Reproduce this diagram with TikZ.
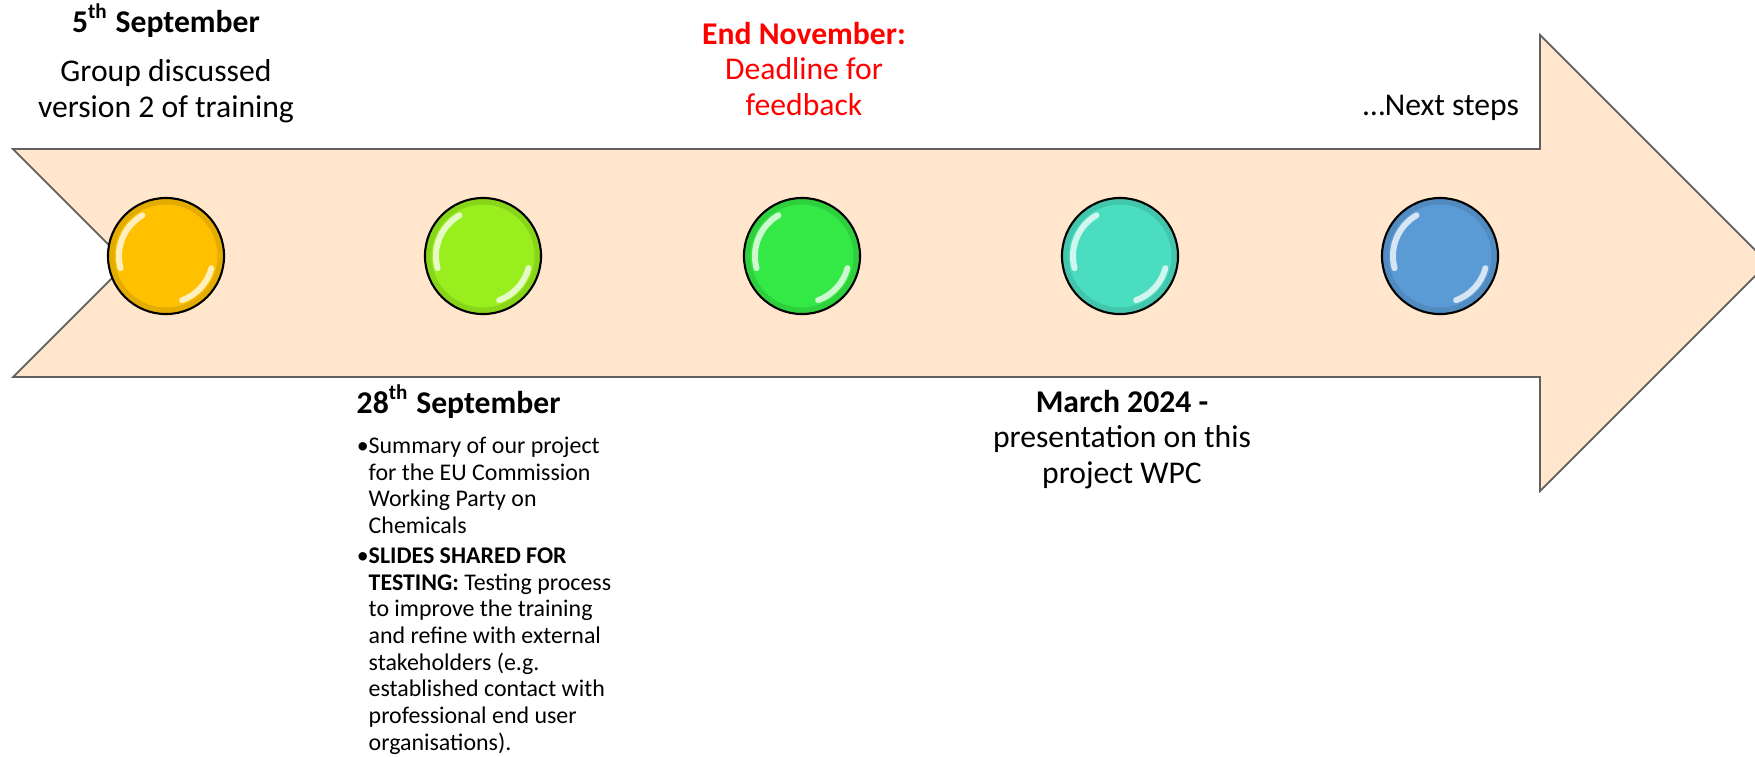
\documentclass[tikz,border=0pt]{standalone}
\usepackage{fontspec}
\setmainfont{Carlito}
\usepackage{tikz}
\definecolor{peach}{RGB}{255, 230, 204}
\definecolor{edge}{RGB}{96, 96, 96}
\definecolor{gold}{RGB}{255, 192, 0}
\definecolor{lime}{RGB}{153, 238, 30}
\definecolor{grass}{RGB}{52, 232, 70}
\definecolor{aqua}{RGB}{74, 221, 192}
\definecolor{sky}{RGB}{91, 155, 213}

\tikzset{
  dot/.style={circle, draw=black, line width=0.6pt, minimum size=1.16cm, inner sep=0pt,
    path picture={
      \draw[black, opacity=0.1, line width=2pt]
        (path picture bounding box.center) circle (0.55cm);
      \draw[white, opacity=0.75, line width=1.7pt, line cap=round]
        ([shift={(120:0.47cm)}]path picture bounding box.center) arc (120:195:0.47cm);
      \draw[white, opacity=0.75, line width=1.7pt, line cap=round]
        ([shift={(-15:0.47cm)}]path picture bounding box.center) arc (-15:-70:0.47cm);
    }},
  head/.style={font=\fontsize{9}{10}\selectfont\bfseries, inner sep=0pt},
  body/.style={font=\fontsize{9}{10}\selectfont, inner sep=0pt, align=center},
  small/.style={font=\fontsize{6.8}{7.57}\selectfont, inner sep=0pt, align=left}
}

\begin{document}
\begin{tikzpicture}[x=0.01cm, y=-0.01cm]

  \useasboundingbox (0, 0) rectangle (1755, 756);

  % timeline arrow
  \draw [fill=peach, draw=edge, line width=0.5pt]
    (13, 149) -- (1540, 149) -- (1540, 35) -- (1768, 263) -- (1540, 491)
    -- (1540, 377) -- (13, 377) -- (127, 263) -- cycle;

  \node[dot, fill=gold] (d1) at (166, 256) {};
  \node[dot, fill=lime] (d2) at (483, 256) {};
  \node[dot, fill=grass] (d3) at (802, 256) {};
  \node[dot, fill=aqua] (d4) at (1120, 256) {};
  \node[dot, fill=sky] (d5) at (1440, 256) {};

  % above the arrow (multi-line nodes sit on their last line)
  \node[head, anchor=base] (sep5) at (166, 32) {5\textsuperscript{th} September};
  \node[body, anchor=base] (sep5txt) at (166, 117) {Group discussed\\version 2 of training};

  \node[body, anchor=base, text=red] (nov) at (804, 115) {\textbf{End November:}\\Deadline for\\feedback};

  \node[body, anchor=base] (next) at (1441, 115) {…Next steps};

  % below the arrow
  \node[head, anchor=base west] (sep28) at (356, 413) {28\textsuperscript{th} September};
  \node[small, anchor=base west] (sep28txt) at (368, 750) {%
    \llap{\textbullet}Summary of our project\\
    for the EU Commission\\
    Working Party on\\
    Chemicals\\[1pt]
    \llap{\textbullet}\textbf{SLIDES SHARED FOR}\\
    \textbf{TESTING:} Testing process\\
    to improve the training\\
    and refine with external\\
    stakeholders (e.g.\\
    established contact with\\
    professional end user\\
    organisations).};

  \node[body, anchor=base] (mar) at (1122, 483) {\textbf{March 2024 -}\\presentation on this\\project WPC};

\end{tikzpicture}
\end{document}
